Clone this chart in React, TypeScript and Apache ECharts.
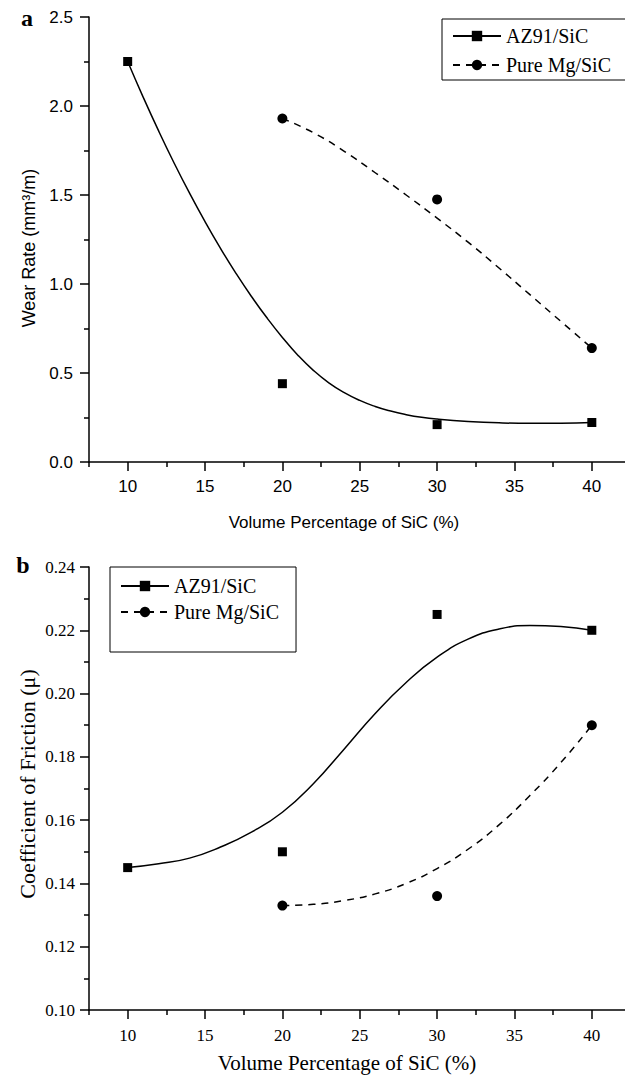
import React, { useEffect, useRef } from "react";
import * as echarts from "echarts";

// ---- Data ----
const volumePct = [10, 20, 30, 40];
const pureMgVolumePct = [20, 30, 40];

// (a) Wear rate, mm^3/m
const az91WearRate = [2.25, 0.44, 0.21, 0.222];
const pureMgWearRate = [1.93, 1.475, 0.64];

// fitted curves
const az91WearFitX = [10, 11, 12, 13, 14, 15, 16, 17, 18, 19, 20, 21, 22, 23, 24, 25, 26, 27, 28, 29, 30, 32, 34, 36, 38, 40];
const az91WearFitY = [2.25, 2.05, 1.86, 1.68, 1.51, 1.35, 1.2, 1.06, 0.93, 0.81, 0.7, 0.6, 0.515, 0.445, 0.39, 0.346, 0.312, 0.286, 0.266, 0.251, 0.241, 0.228, 0.22, 0.217, 0.218, 0.222];
const pureMgWearFitX = [20, 22, 24, 26, 28, 30, 32, 34, 36, 38, 40];
const pureMgWearFitY = [1.93, 1.85, 1.745, 1.625, 1.5, 1.37, 1.235, 1.09, 0.94, 0.79, 0.64];

// (b) Coefficient of friction
const az91Friction = [0.145, 0.15, 0.225, 0.22];
const pureMgFriction = [0.133, 0.136, 0.19];

const az91FrictionFitX = [10, 12, 14, 16, 18, 20, 22, 24, 26, 28, 30, 32, 34, 36, 38, 40];
const az91FrictionFitY = [0.145, 0.1462, 0.148, 0.1515, 0.1562, 0.1625, 0.1715, 0.1825, 0.1937, 0.2035, 0.2115, 0.2172, 0.2204, 0.2215, 0.2212, 0.22];
const pureMgFrictionFitX = [20, 22, 24, 26, 28, 30, 32, 34, 36, 38, 40];
const pureMgFrictionFitY = [0.133, 0.1334, 0.1346, 0.1367, 0.14, 0.1447, 0.1508, 0.1585, 0.1678, 0.1782, 0.19];

// ticks
const xMajorTicks = [10, 15, 20, 25, 30, 35, 40];
const xMinorTicks = [7.5, 12.5, 17.5, 22.5, 27.5, 32.5, 37.5, 42.5];
const wearMajorTicks = [0, 0.5, 1.0, 1.5, 2.0, 2.5];
const wearMinorTicks = [0.25, 0.75, 1.25, 1.75, 2.25];
const frictionMajorTicks = [0.1, 0.12, 0.14, 0.16, 0.18, 0.2, 0.22, 0.24];
const frictionMinorTicks = [0.11, 0.13, 0.15, 0.17, 0.19, 0.21, 0.23];

const legendNamesA = ["AZ91/SiC", "Pure Mg/SiC"];
const legendNamesB = ["AZ91/SiC ", "Pure Mg/SiC "];

const SANS = "'Liberation Sans', Arial, sans-serif";
const SERIF = "'Liberation Serif', 'Times New Roman', serif";

const zip = (xs: number[], ys: number[]) => xs.map((x, i) => [x, ys[i]]);

function xAxesFor(gridIndex: number, fontFamily: string, fontSize: number, margin: number) {
  const common = {
    type: "value",
    gridIndex,
    position: "bottom",
    min: 7.5,
    max: 42.5,
    interval: 2.5,
    splitLine: { show: false },
  };
  return [
    {
      ...common,
      axisLine: { show: true, onZero: false, lineStyle: { color: "#000", width: 1.5 } },
      axisTick: { show: true, customValues: xMajorTicks, length: 9, lineStyle: { color: "#000", width: 1.5 } },
      axisLabel: {
        show: true,
        customValues: xMajorTicks,
        color: "#000",
        fontFamily,
        fontSize,
        margin,
        formatter: (v: number) => String(v),
      },
    },
    {
      ...common,
      axisLine: { show: false, onZero: false },
      axisTick: { show: true, customValues: xMinorTicks, length: 5, lineStyle: { color: "#000", width: 1.5 } },
      axisLabel: { show: false },
    },
  ];
}

function yAxesFor(
  gridIndex: number,
  min: number,
  max: number,
  interval: number,
  major: number[],
  minor: number[],
  digits: number,
  fontFamily: string,
  fontSize: number,
  margin: number
) {
  const common = {
    type: "value",
    gridIndex,
    position: "left",
    min,
    max,
    interval,
    splitLine: { show: false },
  };
  return [
    {
      ...common,
      axisLine: { show: true, onZero: false, lineStyle: { color: "#000", width: 1.5 } },
      axisTick: { show: true, customValues: major, length: 9, lineStyle: { color: "#000", width: 1.5 } },
      axisLabel: {
        show: true,
        customValues: major,
        color: "#000",
        fontFamily,
        fontSize,
        margin,
        formatter: (v: number) => v.toFixed(digits),
      },
    },
    {
      ...common,
      axisLine: { show: false, onZero: false },
      axisTick: { show: true, customValues: minor, length: 5, lineStyle: { color: "#000", width: 1.5 } },
      axisLabel: { show: false },
    },
  ];
}

function curve(name: string, grid: number, data: number[][], symbol: string, dashed: boolean) {
  return {
    name,
    type: "line",
    xAxisIndex: grid * 2,
    yAxisIndex: grid * 2,
    data,
    smooth: 0.5,
    showSymbol: false,
    symbol,
    symbolSize: symbol === "rect" ? 9 : 10,
    silent: true,
    lineStyle: { color: "#000", width: 1.5, type: dashed ? [7, 6] : "solid" },
    itemStyle: { color: "#000", opacity: 1 },
    z: 2,
  };
}

function points(name: string, grid: number, data: number[][], symbol: string) {
  return {
    name,
    type: "scatter",
    xAxisIndex: grid * 2,
    yAxisIndex: grid * 2,
    data,
    symbol,
    symbolSize: symbol === "rect" ? 9 : 10,
    itemStyle: { color: "#000", opacity: 1 },
    silent: true,
    z: 3,
  };
}

function legendAt(left: number, top: number, padding: number[], itemGap: number, data: string[]) {
  return {
    orient: "vertical",
    left,
    top,
    padding,
    itemGap,
    itemWidth: 48,
    itemHeight: 13,
    borderColor: "#000",
    borderWidth: 1,
    selectedMode: false,
    data,
    textStyle: { fontFamily: SERIF, fontSize: 20, color: "#000" },
  };
}

export default function App() {
  const ref = useRef<HTMLDivElement>(null);

  useEffect(() => {
    if (!ref.current) return;
    const chart = echarts.init(ref.current, undefined, { renderer: "svg" });

    const option: any = {
      animation: false,
      backgroundColor: "#fff",
      grid: [
        { left: 89, top: 17, width: 541.5, height: 445 },
        { left: 89, top: 567, width: 541.5, height: 443 },
      ],
      xAxis: [...xAxesFor(0, SANS, 17, 16), ...xAxesFor(1, SERIF, 17, 17)],
      yAxis: [
        ...yAxesFor(0, 0, 2.5, 0.25, wearMajorTicks, wearMinorTicks, 1, SANS, 17, 16),
        ...yAxesFor(1, 0.1, 0.24, 0.01, frictionMajorTicks, frictionMinorTicks, 2, SERIF, 17, 14),
      ],
      legend: [
        legendAt(442, 19, [7, 20, 5, 10], 9, legendNamesA),
        legendAt(110, 567, [9, 12, 30, 10], 6, legendNamesB),
      ],
      series: [
        curve(legendNamesA[0], 0, zip(az91WearFitX, az91WearFitY), "rect", false),
        curve(legendNamesA[1], 0, zip(pureMgWearFitX, pureMgWearFitY), "circle", true),
        points("AZ91/SiC wear points", 0, zip(volumePct, az91WearRate), "rect"),
        points("Pure Mg/SiC wear points", 0, zip(pureMgVolumePct, pureMgWearRate), "circle"),
        curve(legendNamesB[0], 1, zip(az91FrictionFitX, az91FrictionFitY), "rect", false),
        curve(legendNamesB[1], 1, zip(pureMgFrictionFitX, pureMgFrictionFitY), "circle", true),
        points("AZ91/SiC friction points", 1, zip(volumePct, az91Friction), "rect"),
        points("Pure Mg/SiC friction points", 1, zip(pureMgVolumePct, pureMgFriction), "circle"),
      ],
      graphic: [
        {
          type: "text",
          x: 27,
          y: 18,
          style: { text: "a", font: `bold 24px ${SERIF}`, fill: "#000", align: "center", verticalAlign: "middle" },
        },
        {
          type: "text",
          x: 23,
          y: 565,
          style: { text: "b", font: `bold 24px ${SERIF}`, fill: "#000", align: "center", verticalAlign: "middle" },
        },
        {
          type: "text",
          x: 29,
          y: 248,
          rotation: Math.PI / 2,
          style: { text: "Wear Rate (mm³/m)", font: `18px ${SANS}`, fill: "#000", align: "center", verticalAlign: "middle" },
        },
        {
          type: "text",
          x: 344,
          y: 522,
          style: { text: "Volume Percentage of SiC (%)", font: `17px ${SANS}`, fill: "#000", align: "center", verticalAlign: "middle" },
        },
        {
          type: "text",
          x: 27,
          y: 784,
          rotation: Math.PI / 2,
          style: { text: "Coefficient of Friction (μ)", font: `22px ${SERIF}`, fill: "#000", align: "center", verticalAlign: "middle" },
        },
        {
          type: "text",
          x: 347,
          y: 1063,
          style: { text: "Volume Percentage of SiC (%)", font: `21px ${SERIF}`, fill: "#000", align: "center", verticalAlign: "middle" },
        },
      ],
    };

    chart.setOption(option);
    return () => chart.dispose();
  }, []);

  return (
    <div style={{ position: "absolute", left: 0, top: 0, width: 625, height: 1078, overflow: "hidden", background: "#fff" }}>
      <div ref={ref} style={{ position: "absolute", left: 0, top: 0, width: 660, height: 1078 }} />
    </div>
  );
}
